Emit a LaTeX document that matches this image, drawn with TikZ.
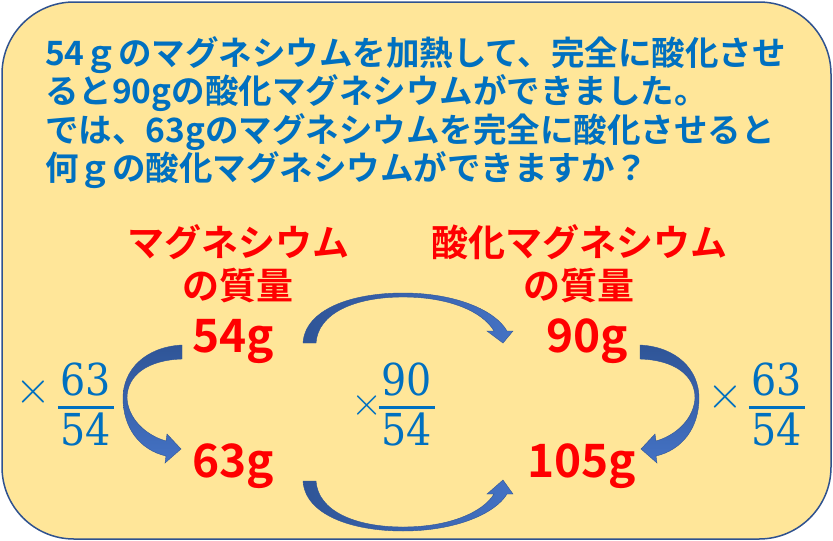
\documentclass[tikz,border=0pt]{standalone}
\usepackage{fontspec}
\usepackage{unicode-math}
\setmathfont{Latin Modern Math}
\newfontfamily\jpfont{Noto Sans CJK JP}[BoldFont={* Bold}]
\newfontfamily\ratiofont{DejaVu Serif}[FakeStretch=0.9]
\usetikzlibrary{positioning}
\definecolor{boxfill}{HTML}{FFE699}
\definecolor{boxline}{HTML}{2F528F}
\definecolor{textblue}{HTML}{0070C0}
\definecolor{massred}{HTML}{FF0000}
\definecolor{arrowdark}{HTML}{2F5597}
\definecolor{arrowlight}{HTML}{4472C4}
\newcommand{\ratiofrac}[2]{\vbox{\halign{\hfil\kern3pt##\kern3pt\hfil\cr#1\cr
  \noalign{\kern10pt\hrule height2.2pt\kern4pt}#2\cr}}}

\begin{document}
\begin{tikzpicture}[x=1pt,y=-1pt,
  panel/.style={draw=boxline,line width=1.5pt,fill=boxfill,rounded corners=72pt},
  question/.style={text=textblue,font=\jpfont\bfseries\fontsize{33.5}{38.5}\selectfont,
                   align=left,inner sep=0pt},
  heading/.style={text=massred,font=\jpfont\bfseries\fontsize{37}{43}\selectfont,
                  align=center,inner sep=0pt},
  mass/.style={text=massred,font=\jpfont\bfseries\fontsize{46}{46}\selectfont,inner sep=0pt},
  ratio/.style={text=textblue,font=\ratiofont\fontsize{44}{44}\selectfont,inner sep=0pt,anchor=north},
  times/.style={text=textblue,font=\fontsize{46}{46}\selectfont,inner sep=0pt},
  bandv/.style={draw=arrowdark,line width=0.4pt,top color=arrowdark,bottom color=arrowlight},
  bandh/.style={draw=arrowdark,line width=0.4pt,left color=arrowdark,right color=arrowlight}
]
\useasboundingbox (0,0) rectangle (833,541);
\draw[panel] (2,2) rectangle (831,539);

% question
\node[question,anchor=north west] (question) at (45,36)
  {54ｇのマグネシウムを加熱して、完全に酸化させ\\
   ると90gの酸化マグネシウムができました。\\
   では、63gのマグネシウムを完全に酸化させると\\
   何ｇの酸化マグネシウムができますか？};

% headings and masses
\node[heading,anchor=north] (mgname)  at (238,224) {マグネシウム\\の質量};
\node[heading,anchor=north] (mgoname) at (579,224) {酸化マグネシウム\\の質量};

\node[mass,anchor=base] (m54)  at (233,352) {54g};
\node[mass,anchor=base] (m63)  at (233,477) {63g};
\node[mass,anchor=base] (m90)  at (587,352) {90g};
\node[mass,anchor=base] (m105) at (582,477) {105g};

% ratios
\node[times] (xleft)  at (33,392)  {$\times$};
\node[ratio] (fleft)  at (86,363)  {\ratiofrac{63}{54}};
\node[times,font=\fontsize{40}{40}\selectfont] (xmid) at (367,406) {$\times$};
\node[ratio] (fmid)   at (407,363) {\ratiofrac{90}{54}};
\node[times] (xright) at (725,397) {$\times$};
\node[ratio] (fright) at (777,363) {\ratiofrac{63}{54}};

% curved arrows
\path[bandv] (182,345) .. controls (145,347) and (123,370) .. (123,398)
  .. controls (123,428) and (140,450) .. (166,456) -- (165,463) -- (181,449)
  -- (167,434) -- (166,441) .. controls (145,435) and (128,418) .. (127,398)
  .. controls (127,375) and (148,360) .. (182,359) -- cycle;
\path[bandv] (640,345) .. controls (677,347) and (699,370) .. (699,398)
  .. controls (699,428) and (682,450) .. (656,456) -- (657,463) -- (641,449)
  -- (655,434) -- (656,441) .. controls (677,435) and (694,418) .. (695,398)
  .. controls (695,375) and (674,360) .. (640,359) -- cycle;
\path[bandh] (303,343) .. controls (305,310) and (350,293) .. (403,293)
  .. controls (455,293) and (495,310) .. (507,331) -- (513,331) -- (503,343)
  -- (487,331) -- (494,331) .. controls (483,312) and (450,297) .. (403,297)
  .. controls (355,297) and (318,313) .. (316,343) -- cycle;
\path[bandh] (303,481) .. controls (305,514) and (350,531) .. (403,531)
  .. controls (455,531) and (495,514) .. (507,494) -- (513,494) -- (503,480)
  -- (487,494) -- (494,494) .. controls (483,512) and (450,527) .. (403,527)
  .. controls (355,527) and (318,511) .. (316,481) -- cycle;
\end{tikzpicture}
\end{document}
